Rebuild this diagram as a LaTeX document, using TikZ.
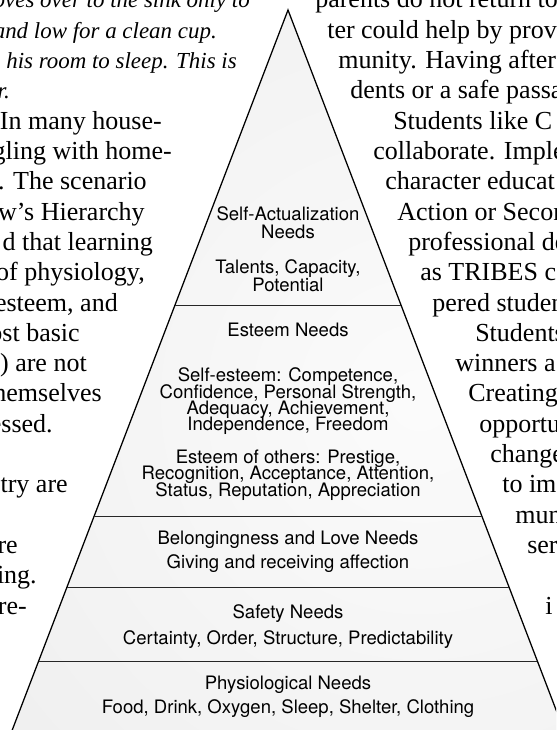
\documentclass[tikz,border=0pt]{standalone}
\usepackage{fontspec}
\setmainfont{Liberation Serif}
\newfontfamily\figfont{TeX Gyre Heros}
\usetikzlibrary{calc}

\begin{document}
\begin{tikzpicture}[x=0.75pt, y=-0.75pt,
					tier/.style={font=\figfont\fontsize{13.9}{16}\selectfont, inner sep=0pt, anchor=base},
					body/.style={font=\fontsize{19.5}{22}\selectfont, inner sep=0pt},
					bodyit/.style={font=\itshape\fontsize{17.2}{20}\selectfont, inner sep=0pt, anchor=base east}
				]
				\useasboundingbox (0,0) rectangle (556,730);
				\clip (0,0) rectangle (556,730);
				\coordinate (apex) at (288,10);
				\coordinate (baseL) at (8.4,740);
				\coordinate (baseR) at (567.6,740);
				% pyramid body with a soft light spot
				\begin{scope}
				\clip (apex) -- (baseL) -- (baseR) -- cycle;
				\fill[gray!15] (0,0) rectangle (576,740);
				\shade[inner color=gray!3, outer color=gray!15] (420,400) circle (700);
				\end{scope}
				\draw[line width=0.95pt] (baseL) -- (apex) -- (baseR);
				% tier boundaries
				\foreach \t [count=\i] in {0.4041,0.6932,0.7904,0.8918} {
					\coordinate (sepL\i) at ($(apex)!\t!(baseL)$);
					\coordinate (sepR\i) at ($(apex)!\t!(baseR)$);
					\draw[line width=0.7pt, black!85] (sepL\i) -- (sepR\i);
				}
				% tier labels
				\node[tier] (selfact) at (288,221) {Self-Actualization};
				\node[tier] (selfactneeds) at (288,239) {Needs};
				\node[tier] (talents) at (288,274) {Talents, Capacity,};
				\node[tier] (potential) at (288,292) {Potential};
				\node[tier] (esteem) at (288,336) {Esteem Needs};
				\node[tier] (selfesteem1) at (288,381) {Self-esteem: Competence,};
				\node[tier] (selfesteem2) at (288,398) {Confidence, Personal Strength,};
				\node[tier] (selfesteem3) at (288,414) {Adequacy, Achievement,};
				\node[tier] (selfesteem4) at (288,430) {Independence, Freedom};
				\node[tier] (others1) at (288,463) {Esteem of others: Prestige,};
				\node[tier] (others2) at (288,479) {Recognition, Acceptance, Attention,};
				\node[tier] (others3) at (288,496) {Status, Reputation, Appreciation};
				\node[tier] (belong) at (288,544) {Belongingness and Love Needs};
				\node[tier] (affection) at (288,568) {Giving and receiving affection};
				\node[tier] (safety) at (288,618) {Safety Needs};
				\node[tier] (certainty) at (288,644) {Certainty, Order, Structure, Predictability};
				\node[tier] (physio) at (288,689) {Physiological Needs};
				\node[tier] (food) at (288,713) {Food, Drink, Oxygen, Sleep, Shelter, Clothing};
				% running text left of the figure
				\foreach \k/\x/\txt in {0/250/{oves over to the sink only to}, 1/217/{and low for a clean cup.},
						2/237/{o his room to sleep. This is}, 3/10/{r.}}
					\node[bodyit] (li\k) at (\x,8+30.3*\k) {\txt};
				\foreach \k/\x/\txt in {4/162/{In many house-}, 5/172/{gling with home-}, 6/147/{t. The scenario},
						7/145/{ow’s Hierarchy}, 8/153/{d that learning}, 9/145/{of physiology,},
						10/118/{esteem, and}, 11/80/{ost basic}, 12/87/{) are not}, 13/102/{hemselves},
						14/53/{essed.}, 16/68/{try are}, 18/18/{re}, 19/37/{ing.}, 20/27/{re-}}
					\node[body, anchor=base east] (l\k) at (\x,8+30.3*\k) {\txt};
				% running text right of the figure
				\foreach \k/\x/\txt in {0/315/{parents do not return to}, 1/327/{ter could help by provi},
						2/338/{munity. Having after}, 3/350/{dents or a safe passa}, 4/393/{Students like C},
						5/373/{collaborate. Imple}, 6/385/{character educat}, 7/397/{Action or Secon},
						8/408/{professional de}, 9/420/{as TRIBES c}, 10/432/{pered studen},
						11/475/{Students}, 12/455/{winners a}, 13/468/{Creating}, 14/479/{opportu},
						15/490/{change}, 16/502/{to im}, 17/515/{mun}, 18/527/{serv}, 20/545/{i}}
					\node[body, anchor=base west] (r\k) at (\x,8+30.3*\k) {\txt};
				\end{tikzpicture}
\end{document}
